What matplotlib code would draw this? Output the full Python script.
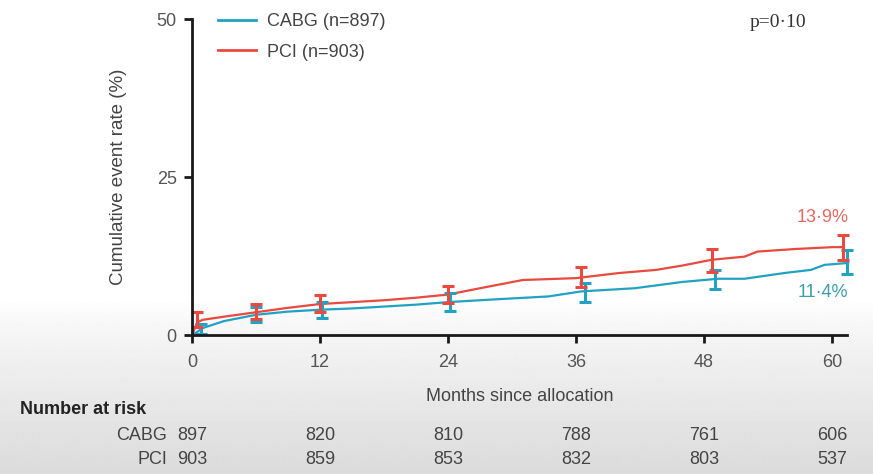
import numpy as np
import matplotlib
matplotlib.use("Agg")
import matplotlib.pyplot as plt
from matplotlib.lines import Line2D
import matplotlib.transforms as mtrans

plt.rcParams['font.family'] = ['Liberation Sans', 'DejaVu Sans']

# curves (months, cumulative event rate %)
pci_t = [0, 0.5, 1, 3, 6, 9, 12, 15, 18, 21, 24, 27, 31, 36, 40, 43.5, 46, 48.7, 51.8, 53, 56.5, 60, 61]
pci_y = [0, 2.0, 2.4, 2.9, 3.6, 4.3, 4.9, 5.2, 5.5, 5.9, 6.4, 7.4, 8.7, 9.0, 9.8, 10.3, 11.0, 11.9, 12.4, 13.2, 13.6, 13.9, 13.9]
cabg_t = [0, 0.5, 1, 3, 6, 9, 12, 15, 18, 21, 24, 28, 33.4, 36.5, 41.5, 46, 49.3, 51.8, 55.5, 58, 59.3, 61.5]
cabg_y = [0, 0.5, 1.1, 2.2, 3.2, 3.7, 4.0, 4.2, 4.5, 4.8, 5.2, 5.6, 6.1, 6.9, 7.4, 8.4, 8.9, 8.9, 9.8, 10.3, 11.1, 11.4]

# confidence bars
pci_et = [0.5, 6, 12, 24, 36.5, 48.7, 61]
pci_ey = [2.4, 3.7, 5.0, 6.4, 9.2, 11.8, 13.9]
pci_ee = [1.2, 1.2, 1.3, 1.4, 1.6, 1.8, 2.0]
cabg_et = [0.8, 6, 12.2, 24.2, 36.8, 49, 61.4]
cabg_ey = [1.0, 3.2, 4.0, 5.2, 6.8, 8.8, 11.6]
cabg_ee = [0.8, 1.2, 1.3, 1.4, 1.5, 1.5, 1.9]

risk_months = [0, 12, 24, 36, 48, 60]
risk_cabg = [897, 820, 810, 788, 761, 606]
risk_pci = [903, 859, 853, 832, 803, 537]

teal = '#22a2c2'
red = '#e9493f'

W, H = 873, 474
fig = plt.figure(figsize=(W / 100, H / 100), dpi=100)

# greyish photo-like background at the bottom
bg = fig.add_axes([0, 0, 1, 1], zorder=-10)
bg.axis('off')
rows = np.linspace(0, 1, H)
shade = np.where(rows < 300 / H, 1.0, 1.0 - 0.14 * ((rows - 300 / H) / (1 - 300 / H)) ** 0.8)
bg.imshow(np.tile(shade[:, None], (1, 10)), cmap='gray', vmin=0, vmax=1,
          extent=[0, 1, 0, 1], aspect='auto', origin='upper')
bg.set_xlim(0, 1)
bg.set_ylim(0, 1)

x0, x1 = 192, 847
y0, y1 = 335, 19
ax = fig.add_axes([x0 / W, 1 - y0 / H, (x1 - x0) / W, (y0 - y1) / H])
ax.patch.set_alpha(0)
ax.set_xlim(0, 61.4)
ax.set_ylim(0, 50)

ax.plot(cabg_t, cabg_y, color=teal, lw=1.6, clip_on=False)
ax.plot(pci_t, pci_y, color=red, lw=1.6, clip_on=False)
for et, ey, ee, c in [(cabg_et, cabg_ey, cabg_ee, teal), (pci_et, pci_ey, pci_ee, red)]:
    eb = ax.errorbar(et, ey, yerr=ee, fmt='none', ecolor=c, elinewidth=2.2,
                     capsize=4, capthick=2.2)
    for art in eb.lines[1] + eb.lines[2]:
        art.set_clip_on(False)

for s in ['top', 'right']:
    ax.spines[s].set_visible(False)
for s in ['left', 'bottom']:
    ax.spines[s].set_linewidth(2)
    ax.spines[s].set_color('#1a1a1a')
ax.set_xticks([0, 12, 24, 36, 48, 60])
ax.set_yticks([0, 25, 50])
ax.tick_params(length=6, width=2, color='#1a1a1a', labelsize=13, labelcolor='#555555')
ax.tick_params(axis='x', pad=8)
ax.tick_params(axis='y', pad=5)
ax.set_xlabel('Months since allocation', fontsize=13, color='#444444', labelpad=12)
ax.set_ylabel('Cumulative event rate (%)', fontsize=13.5, color='#444444', labelpad=21)

ax.text(59.1, 18.6, '13·9%', color='#e26a62', fontsize=13, ha='center', va='center')
ax.text(59.1, 6.8, '11·4%', color='#3c9fae', fontsize=13, ha='center', va='center')
ax.text(54.9, 49.4, 'p=0·10', color='#333333', fontsize=14, ha='center', va='center',
        family='Liberation Serif')

handles = [Line2D([], [], color=teal, lw=2), Line2D([], [], color=red, lw=2)]
ax.legend(handles, ['CABG (n=897)', 'PCI (n=903)'], loc='upper left', frameon=False,
          bbox_to_anchor=(0.015, 1.07), fontsize=13, handlelength=2.1, handletextpad=0.6,
          labelspacing=0.75, labelcolor='#444444')

tr = mtrans.blended_transform_factory(ax.transData, fig.transFigure)
fig.text(20 / W, 1 - 410 / H, 'Number at risk', fontsize=13, color='#222222',
         va='center', fontweight='bold')
fig.text(167 / W, 1 - 435 / H, 'CABG', fontsize=13, color='#444444', va='center', ha='right')
fig.text(167 / W, 1 - 459 / H, 'PCI', fontsize=13, color='#444444', va='center', ha='right')
for m, a, b in zip(risk_months, risk_cabg, risk_pci):
    ax.text(m, 1 - 435 / H, str(a), transform=tr, fontsize=13, color='#444444',
            va='center', ha='center')
    ax.text(m, 1 - 459 / H, str(b), transform=tr, fontsize=13, color='#444444',
            va='center', ha='center')

fig.savefig('out.png', dpi=100)
